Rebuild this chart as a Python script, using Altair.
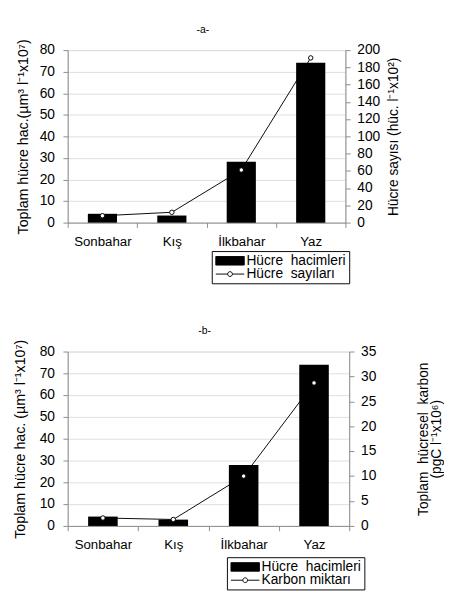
import altair as alt
import pandas as pd

seasons = ["Sonbahar", "Kış", "İlkbahar", "Yaz"]
vol_a = [4.1, 3.3, 28.2, 74.2]
count_a = [8, 12, 61, 191]
vol_b = [4.3, 2.9, 28.0, 74.0]
carbon_b = [1.6, 1.3, 10.0, 28.7]
legend_a = ["Hücre\u00a0 hacimleri", "Hücre\u00a0 sayıları"]
legend_b = ["Hücre\u00a0 hacimleri", "Karbon miktarı"]

FONT = "Liberation Sans"
RECT = "M-1,-0.75H4V0.75H-1Z"
LINEDOT = "M-1,0H1.08M1.92,0H4M1.92,0A0.42,0.42 0 1 1 1.08,0A0.42,0.42 0 1 1 1.92,0"


def panel(vol, vals, names, title, left_title, right_title, rmax, rstep,
          w, h, legx, legy, ltpad, rtpad, toff):
    df = pd.DataFrame({"season": seasons, "vol": vol, "val": vals})
    leg = pd.DataFrame({"series": names})
    x = alt.X("season:N", sort=seasons,
              scale=alt.Scale(paddingInner=0, paddingOuter=0),
              axis=alt.Axis(title=None, labelAngle=0, tickBand="extent",
                            tickSize=5, labelPadding=8, labelFontSize=14))
    bars = alt.Chart(df).mark_bar(color="black", width=alt.RelativeBandSize(0.42)).encode(
        x=x,
        y=alt.Y("vol:Q", scale=alt.Scale(domain=[0, 80]),
                axis=alt.Axis(values=list(range(0, 81, 10)), title=left_title,
                              titleFontSize=15, titleFontWeight="normal", titlePadding=ltpad,
                              labelFontSize=14.5, labelPadding=9, tickSize=5)),
    )
    rax = alt.Axis(orient="right", values=list(range(0, rmax + 1, rstep)),
                   title=right_title, titleAngle=270, titleBaseline="top",
                   titleFontSize=14.5, titleFontWeight="normal", titleLineHeight=14,
                   titlePadding=rtpad, labelFontSize=14.5, labelPadding=7, tickSize=5)
    yr = alt.Y("val:Q", scale=alt.Scale(domain=[0, rmax]), axis=rax)
    line = alt.Chart(df).mark_line(color="black", strokeWidth=1).encode(x=x, y=yr)
    pts = alt.Chart(df).mark_point(filled=True, fill="white", stroke="black",
                                   strokeWidth=1, size=22, opacity=1).encode(x=x, y=yr)
    lg = alt.Legend(title=None, orient="none", legendX=legx, legendY=legy,
                    symbolOpacity=1, symbolStrokeColor="black", symbolStrokeWidth=1,
                    symbolSize=144, labelFontSize=14.5, labelFont=FONT,
                    labelColor="black", strokeColor="black", fillColor="white",
                    padding=3, rowPadding=-4, labelOffset=19)
    dummy = alt.Chart(leg).mark_point(opacity=0, size=144, stroke="black", strokeWidth=1).encode(
        x=alt.value(0), y=alt.value(0),
        shape=alt.Shape("series:N", scale=alt.Scale(domain=names, range=[RECT, LINEDOT]), legend=lg),
        fill=alt.Fill("series:N", scale=alt.Scale(domain=names, range=["black", "white"]), legend=lg),
        stroke=alt.Stroke("series:N", scale=alt.Scale(domain=names, range=["black", "black"]), legend=lg),
    )
    return alt.layer(bars, alt.layer(line, pts, dummy)).resolve_scale(y="independent").properties(
        width=w, height=h,
        title=alt.TitleParams(title, fontSize=11, fontWeight="normal", font=FONT,
                              color="black", offset=toff, dx=-4),
    )


a = panel(vol_a, count_a, legend_a, "-a-",
          "Toplam hücre hac.(µm³ l⁻¹x10⁷)", "Hücre sayısı  (hüc. l⁻¹x10²)",
          200, 20, 293, 182, 152, 212, 9, 8, 4)
b = panel(vol_b, carbon_b, legend_b, "-b-",
          "Toplam hücre hac. (µm³ l⁻¹x10⁷)",
          ["Toplam\u00a0 hücresel\u00a0 karbon", "(pgC l⁻¹x10⁶)"],
          35, 5, 297, 184, 168, 217, 12, 29, 4)

chart = alt.vconcat(a, b, spacing=42).resolve_scale(
    shape="independent", fill="independent", stroke="independent"
).resolve_legend(shape="independent", fill="independent", stroke="independent").properties(
    padding={"left": 5, "top": 0, "right": 0, "bottom": 0}
).configure_view(stroke="black", strokeWidth=1).configure_axis(
    grid=False, domainColor="black", tickColor="black", labelColor="black",
    titleColor="black", labelFont=FONT, titleFont=FONT, titleFontWeight="normal",
    domainWidth=1,
).configure(background="white")

chart.save("out.html", embed_options={"renderer": "svg", "actions": False})
